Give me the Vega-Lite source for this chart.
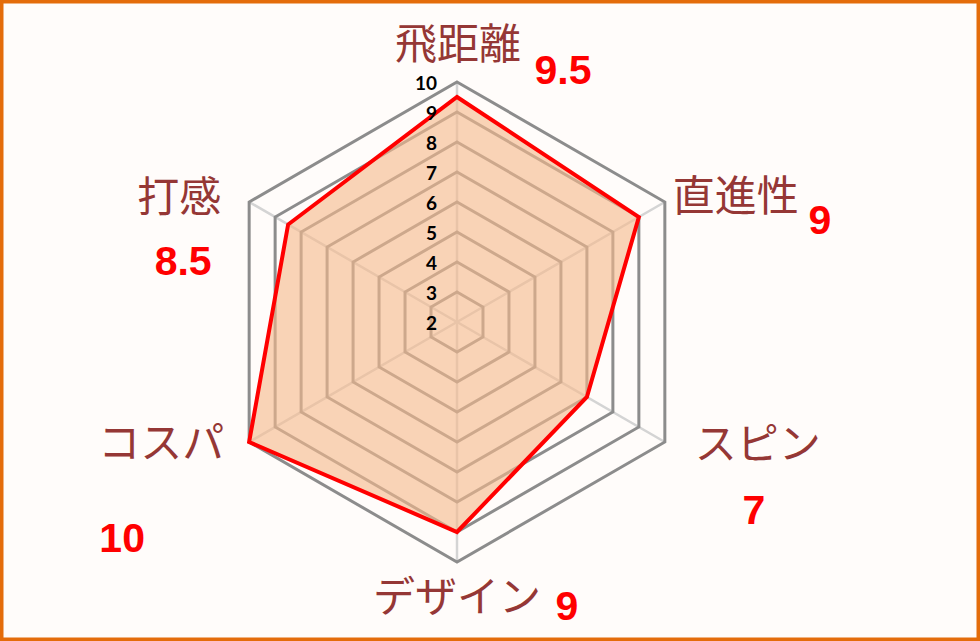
{
  "$schema": "https://vega.github.io/schema/vega-lite/v6.json",
  "width": 980,
  "height": 641,
  "padding": 0,
  "autosize": {"type": "none"},
  "background": "#FFFCFA",
  "config": {"view": {"stroke": "#E46C0A", "strokeWidth": 7, "fill": "#FFFCFA"}},
  "datasets": {
    "scores": [
      {"axis": "飛距離", "score": 9.5, "k": 0},
      {"axis": "直進性", "score": 9, "k": 1},
      {"axis": "スピン", "score": 7, "k": 2},
      {"axis": "デザイン", "score": 9, "k": 3},
      {"axis": "コスパ", "score": 10, "k": 4},
      {"axis": "打感", "score": 8.5, "k": 5}
    ],
    "levels": [
      {"level": 2, "k": [0, 1, 2, 3, 4, 5]},
      {"level": 3, "k": [0, 1, 2, 3, 4, 5]},
      {"level": 4, "k": [0, 1, 2, 3, 4, 5]},
      {"level": 5, "k": [0, 1, 2, 3, 4, 5]},
      {"level": 6, "k": [0, 1, 2, 3, 4, 5]},
      {"level": 7, "k": [0, 1, 2, 3, 4, 5]},
      {"level": 8, "k": [0, 1, 2, 3, 4, 5]},
      {"level": 9, "k": [0, 1, 2, 3, 4, 5]},
      {"level": 10, "k": [0, 1, 2, 3, 4, 5]}
    ]
  },
  "encoding": {
    "x": {"field": "px", "type": "quantitative", "scale": {"domain": [-15.2333, 17.4333], "nice": false, "zero": false}, "axis": null},
    "y": {"field": "py", "type": "quantitative", "scale": {"domain": [-10.6333, 10.7333], "nice": false, "zero": false}, "axis": null}
  },
  "layer": [
    {
      "data": {"values": [{}]},
      "mark": {"type": "rect", "fill": "#FFFFFF"},
      "encoding": {
        "x": {"datum": -7.9, "type": "quantitative"},
        "x2": {"datum": 8.0},
        "y": {"datum": 7.97, "type": "quantitative"},
        "y2": {"datum": -7.93}
      }
    },
    {
      "data": {"name": "scores"},
      "transform": [
        {"calculate": "0", "as": "px"},
        {"calculate": "0", "as": "py"},
        {"calculate": "8*sin(datum.k*PI/3)", "as": "ex"},
        {"calculate": "8*cos(datum.k*PI/3)", "as": "ey"}
      ],
      "mark": {"type": "rule", "stroke": "#D4D4D4", "strokeWidth": 2.5},
      "encoding": {"x2": {"field": "ex"}, "y2": {"field": "ey"}}
    },
    {
      "data": {"name": "levels"},
      "transform": [
        {"filter": "datum.level > 2"},
        {"flatten": ["k"]},
        {"calculate": "(datum.level-2)*sin(datum.k*PI/3)", "as": "px"},
        {"calculate": "(datum.level-2)*cos(datum.k*PI/3)", "as": "py"}
      ],
      "mark": {"type": "line", "interpolate": "linear-closed", "stroke": "#8C8C8C", "strokeWidth": 3},
      "encoding": {"detail": {"field": "level", "type": "nominal"}, "order": {"field": "k", "type": "quantitative"}}
    },
    {
      "data": {"name": "scores"},
      "transform": [
        {"calculate": "(datum.score-2)*sin(datum.k*PI/3)", "as": "px"},
        {"calculate": "(datum.score-2)*cos(datum.k*PI/3)", "as": "py"}
      ],
      "mark": {"type": "line", "interpolate": "linear-closed", "fill": "#F6B98C", "fillOpacity": 0.62, "stroke": "#FF0000", "strokeWidth": 4, "strokeJoin": "miter"},
      "encoding": {"order": {"field": "k", "type": "quantitative"}}
    },
    {
      "data": {"name": "levels"},
      "transform": [
        {"calculate": "0", "as": "px"},
        {"calculate": "datum.level-2", "as": "py"}
      ],
      "mark": {"type": "text", "align": "right", "baseline": "middle", "dx": -20, "dy": 2, "font": "Lato", "fontWeight": "bold", "fontSize": 19, "fill": "#000000"},
      "encoding": {"text": {"field": "level", "type": "nominal"}}
    },
    {
      "data": {"name": "scores"},
      "transform": [{"filter": "datum.k==0"}, {"calculate": "8*sin(datum.k*PI/3)", "as": "px"}, {"calculate": "8*cos(datum.k*PI/3)", "as": "py"}],
      "mark": {"type": "text", "dx": 1, "dy": -36, "font": "Noto Sans CJK JP", "fontSize": 42, "fill": "#953735", "align": "center", "baseline": "middle"},
      "encoding": {"text": {"field": "axis", "type": "nominal"}}
    },
    {
      "data": {"name": "scores"},
      "transform": [{"filter": "datum.k==1"}, {"calculate": "8*sin(datum.k*PI/3)", "as": "px"}, {"calculate": "8*cos(datum.k*PI/3)", "as": "py"}],
      "mark": {"type": "text", "dx": 71, "dy": -4, "font": "Noto Sans CJK JP", "fontSize": 42, "fill": "#953735", "align": "center", "baseline": "middle"},
      "encoding": {"text": {"field": "axis", "type": "nominal"}}
    },
    {
      "data": {"name": "scores"},
      "transform": [{"filter": "datum.k==2"}, {"calculate": "8*sin(datum.k*PI/3)", "as": "px"}, {"calculate": "8*cos(datum.k*PI/3)", "as": "py"}],
      "mark": {"type": "text", "dx": 93, "dy": 4, "font": "Noto Sans CJK JP", "fontSize": 42, "fill": "#953735", "align": "center", "baseline": "middle"},
      "encoding": {"text": {"field": "axis", "type": "nominal"}}
    },
    {
      "data": {"name": "scores"},
      "transform": [{"filter": "datum.k==3"}, {"calculate": "8*sin(datum.k*PI/3)", "as": "px"}, {"calculate": "8*cos(datum.k*PI/3)", "as": "py"}],
      "mark": {"type": "text", "dx": 0, "dy": 37, "font": "Noto Sans CJK JP", "fontSize": 42, "fill": "#953735", "align": "center", "baseline": "middle"},
      "encoding": {"text": {"field": "axis", "type": "nominal"}}
    },
    {
      "data": {"name": "scores"},
      "transform": [{"filter": "datum.k==4"}, {"calculate": "8*sin(datum.k*PI/3)", "as": "px"}, {"calculate": "8*cos(datum.k*PI/3)", "as": "py"}],
      "mark": {"type": "text", "dx": -88, "dy": 3, "font": "Noto Sans CJK JP", "fontSize": 42, "fill": "#953735", "align": "center", "baseline": "middle"},
      "encoding": {"text": {"field": "axis", "type": "nominal"}}
    },
    {
      "data": {"name": "scores"},
      "transform": [{"filter": "datum.k==5"}, {"calculate": "8*sin(datum.k*PI/3)", "as": "px"}, {"calculate": "8*cos(datum.k*PI/3)", "as": "py"}],
      "mark": {"type": "text", "dx": -70, "dy": -3, "font": "Noto Sans CJK JP", "fontSize": 42, "fill": "#953735", "align": "center", "baseline": "middle"},
      "encoding": {"text": {"field": "axis", "type": "nominal"}}
    },
    {
      "data": {"name": "scores"},
      "transform": [{"filter": "datum.k==0"}, {"calculate": "8*sin(datum.k*PI/3)", "as": "px"}, {"calculate": "8*cos(datum.k*PI/3)", "as": "py"}],
      "mark": {"type": "text", "dx": 106, "dy": -10, "font": "Liberation Sans", "fontWeight": "bold", "fontSize": 41, "fill": "#FF0000", "align": "center", "baseline": "middle"},
      "encoding": {"text": {"field": "score", "type": "nominal"}}
    },
    {
      "data": {"name": "scores"},
      "transform": [{"filter": "datum.k==1"}, {"calculate": "8*sin(datum.k*PI/3)", "as": "px"}, {"calculate": "8*cos(datum.k*PI/3)", "as": "py"}],
      "mark": {"type": "text", "dx": 155, "dy": 20, "font": "Liberation Sans", "fontWeight": "bold", "fontSize": 41, "fill": "#FF0000", "align": "center", "baseline": "middle"},
      "encoding": {"text": {"field": "score", "type": "nominal"}}
    },
    {
      "data": {"name": "scores"},
      "transform": [{"filter": "datum.k==2"}, {"calculate": "8*sin(datum.k*PI/3)", "as": "px"}, {"calculate": "8*cos(datum.k*PI/3)", "as": "py"}],
      "mark": {"type": "text", "dx": 89, "dy": 70, "font": "Liberation Sans", "fontWeight": "bold", "fontSize": 41, "fill": "#FF0000", "align": "center", "baseline": "middle"},
      "encoding": {"text": {"field": "score", "type": "nominal"}}
    },
    {
      "data": {"name": "scores"},
      "transform": [{"filter": "datum.k==3"}, {"calculate": "8*sin(datum.k*PI/3)", "as": "px"}, {"calculate": "8*cos(datum.k*PI/3)", "as": "py"}],
      "mark": {"type": "text", "dx": 110, "dy": 46, "font": "Liberation Sans", "fontWeight": "bold", "fontSize": 41, "fill": "#FF0000", "align": "center", "baseline": "middle"},
      "encoding": {"text": {"field": "score", "type": "nominal"}}
    },
    {
      "data": {"name": "scores"},
      "transform": [{"filter": "datum.k==4"}, {"calculate": "8*sin(datum.k*PI/3)", "as": "px"}, {"calculate": "8*cos(datum.k*PI/3)", "as": "py"}],
      "mark": {"type": "text", "dx": -127, "dy": 98, "font": "Liberation Sans", "fontWeight": "bold", "fontSize": 41, "fill": "#FF0000", "align": "center", "baseline": "middle"},
      "encoding": {"text": {"field": "score", "type": "nominal"}}
    },
    {
      "data": {"name": "scores"},
      "transform": [{"filter": "datum.k==5"}, {"calculate": "8*sin(datum.k*PI/3)", "as": "px"}, {"calculate": "8*cos(datum.k*PI/3)", "as": "py"}],
      "mark": {"type": "text", "dx": -66, "dy": 61, "font": "Liberation Sans", "fontWeight": "bold", "fontSize": 41, "fill": "#FF0000", "align": "center", "baseline": "middle"},
      "encoding": {"text": {"field": "score", "type": "nominal"}}
    }
  ]
}
